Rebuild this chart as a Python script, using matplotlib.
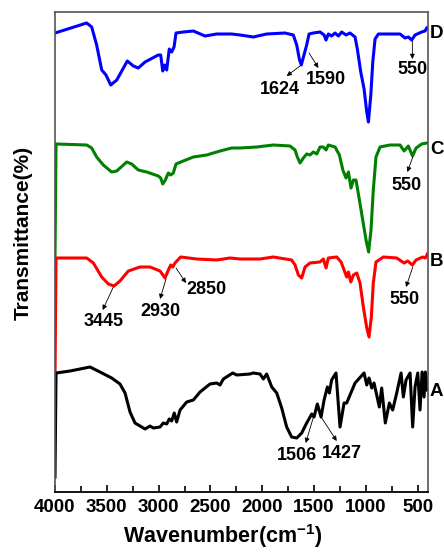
import numpy as np
import matplotlib.pyplot as plt
from matplotlib.transforms import blended_transform_factory

plt.rcParams['font.family'] = ['Liberation Sans', 'DejaVu Sans']
plt.rcParams['font.weight'] = 'bold'
plt.rcParams['mathtext.fontset'] = 'custom'
plt.rcParams['mathtext.rm'] = 'Liberation Sans:bold'
plt.rcParams['mathtext.bf'] = 'Liberation Sans:bold'
plt.rcParams['mathtext.default'] = 'bf'

# ~~~~~~~~~~~~~~~~~~~~ data (arbitrary transmittance units) ~~~~~~~~~~~~~~~~~~~~
wn_D = [4000, 3694, 3646, 3598, 3549, 3508, 3462, 3404, 3302, 3244, 3196, 3131, 3003, 2980, 2960,
        2941, 2922, 2897, 2874, 2851, 2832, 2762, 2665, 2552, 2439, 2295, 2214, 2086, 1957, 1780,
        1700, 1667, 1642, 1623, 1597, 1571, 1548, 1507, 1442, 1403, 1384, 1362, 1330, 1297, 1265,
        1233, 1191, 1153, 1104, 1082, 1049, 1017, 991, 975, 952, 933, 911, 879, 766, 670,
        622, 590, 557, 525, 461, 429, 412]
T_D = [459, 469, 465, 447, 422, 417, 407, 412, 431, 426, 424, 430, 437, 437, 421,
       427, 422, 443, 440, 445, 459, 460, 461, 456, 458, 458, 457, 455, 458, 459,
       457, 447, 433, 427, 437, 447, 458, 459, 460, 457, 452, 458, 456, 459, 456,
       460, 457, 459, 455, 443, 420, 403, 380, 370, 397, 430, 453, 458, 458, 458,
       454, 455, 452, 457, 460, 461, 464]

wn_C = [4000, 3990, 3694, 3646, 3598, 3534, 3453, 3404, 3308, 3260, 3196, 3115, 3003, 2980, 2960,
        2935, 2906, 2883, 2858, 2832, 2762, 2665, 2536, 2407, 2295, 2214, 2053, 1893, 1732, 1683,
        1661, 1635, 1603, 1571, 1539, 1507, 1474, 1442, 1410, 1384, 1362, 1297, 1255, 1222, 1191,
        1168, 1143, 1120, 1095, 1062, 1030, 998, 973, 950, 928, 902, 863, 766, 670, 631,
        590, 549, 515, 461, 412]
T_C = [235, 348, 347, 344, 335, 327, 320, 321, 330, 328, 322, 320, 316, 314, 308,
       312, 319, 317, 319, 328, 331, 335, 337, 341, 344, 344, 345, 347, 346, 342,
       335, 329, 334, 338, 337, 340, 338, 345, 345, 342, 347, 345, 337, 322, 314,
       320, 304, 312, 312, 292, 272, 252, 240, 262, 302, 335, 345, 347, 347, 341,
       346, 336, 344, 348, 349]

wn_B = [4000, 3990, 3694, 3630, 3549, 3485, 3430, 3373, 3292, 3180, 3083, 2986, 2938, 2906, 2883,
        2864, 2842, 2787, 2633, 2439, 2311, 2214, 2021, 1893, 1716, 1683, 1651, 1619, 1587, 1539,
        1442, 1410, 1384, 1362, 1281, 1239, 1210, 1185, 1168, 1145, 1120, 1088, 1056, 1024, 991,
        969, 947, 928, 902, 831, 702, 631, 596, 551, 515, 451, 425, 406]
T_B = [114, 234, 234, 229, 215, 208, 206, 211, 221, 225, 225, 221, 214, 222, 227,
       225, 229, 235, 233, 232, 234, 233, 233, 235, 232, 227, 217, 214, 225, 229,
       230, 233, 224, 234, 235, 230, 222, 215, 220, 210, 217, 219, 209, 185, 164,
       155, 175, 209, 230, 235, 234, 229, 231, 227, 232, 235, 234, 238]

wn_A = [4000, 3990, 3855, 3662, 3566, 3453, 3373, 3324, 3276, 3228, 3131, 3083, 3051, 2986, 2955,
        2922, 2897, 2874, 2849, 2826, 2793, 2729, 2665, 2600, 2504, 2439, 2407, 2375, 2285, 2246,
        2118, 2086, 2021, 1989, 1957, 1908, 1860, 1812, 1764, 1716, 1667, 1619, 1571, 1522, 1500,
        1468, 1432, 1403, 1371, 1352, 1330, 1288, 1249, 1210, 1185, 1104, 1017, 991, 969, 943,
        921, 895, 870, 847, 812, 773, 741, 702, 660, 638, 612, 573, 548, 525, 499,
        477, 457, 438, 425, 406]
T_A = [15, 119, 121, 125, 120, 114, 108, 99, 80, 69, 63, 66, 64, 65, 69,
       68, 73, 71, 79, 70, 82, 90, 92, 100, 108, 109, 107, 113, 119, 117,
       118, 119, 118, 113, 118, 105, 99, 84, 65, 55, 54, 59, 69, 78, 75,
       88, 75, 92, 105, 99, 112, 119, 65, 89, 89, 109, 119, 107, 114, 104,
       109, 97, 85, 104, 69, 89, 82, 99, 119, 95, 112, 119, 65, 105, 119,
       82, 120, 95, 120, 102]

curves = [('D', wn_D, T_D, '#0000ff'),
          ('C', wn_C, T_C, '#008000'),
          ('B', wn_B, T_B, '#ff0000'),
          ('A', wn_A, T_A, '#000000')]

# label, peak (tail), arrow head, text centre
peaks = [('1624', (1635, 426), (1764, 416), (1828, 403)),
         ('1590', (1548, 439), (1458, 424), (1384, 412)),
         ('550', (551, 451), (551, 433), (551, 423)),
         ('550', (547, 335), (599, 320), (605, 307)),
         ('3445', (3437, 205), (3540, 182), (3527, 170)),
         ('2930', (2929, 213), (2986, 193), (2986, 181)),
         ('2850', (2832, 224), (2736, 209), (2536, 203)),
         ('550', (547, 225), (612, 205), (622, 192)),
         ('1506', (1500, 77), (1580, 49), (1667, 37)),
         ('1427', (1432, 75), (1281, 51), (1233, 38))]

# ~~~~~~~~~~~~~~~~~~~~ plot ~~~~~~~~~~~~~~~~~~~~
fig = plt.figure(figsize=(4.44, 5.52), dpi=100)
ax = fig.add_axes([55/444, 1 - 492/552, 373/444, 480/552])

for name, wn, T, col in curves:
    ax.plot(wn, T, color=col, lw=2.2, solid_joinstyle='round')

trans = blended_transform_factory(ax.transAxes, ax.transData)
label_y = {'D': 459, 'C': 342, 'B': 230, 'A': 100}
for name, wn, T, col in curves:
    ax.text(1.005, label_y[name], name, transform=trans, ha='left', va='center',
            fontsize=13.5, fontweight='bold')

for lab, tail, head, txt in peaks:
    ax.annotate('', xy=head, xytext=tail,
                arrowprops=dict(arrowstyle='-|>', color='black', lw=0.6, mutation_scale=7,
                                shrinkA=0, shrinkB=0))
    ax.text(txt[0], txt[1], lab, ha='center', va='center', fontsize=13, fontweight='bold')

ax.set_xlim(4000, 400)
ax.set_ylim(0, 480)
ax.set_yticks([])
ax.set_xticks([4000, 3500, 3000, 2500, 2000, 1500, 1000, 500])
ax.set_xticks(np.arange(3750, 400, -500), minor=True)
ax.tick_params(axis='x', which='both', direction='in', labelsize=13.5, pad=5)
ax.tick_params(axis='x', which='major', length=5, width=1.2)
ax.tick_params(axis='x', which='minor', length=4, width=1.2)
for lbl in ax.get_xticklabels():
    lbl.set_fontweight('bold')

for side in ['top', 'right', 'left']:
    ax.spines[side].set_color('#555555')
    ax.spines[side].set_linewidth(1.2)
ax.spines['bottom'].set_linewidth(1.3)

ax.set_xlabel('Wavenumber(cm$^{-1}$)', fontsize=15.5, fontweight='bold')
ax.set_ylabel('Transmittance(%)', fontsize=15, fontweight='bold')
ax.xaxis.set_label_coords(0.45, -0.063)
ax.yaxis.set_label_coords(-0.06, 0.54)

fig.savefig('out.png', dpi=100)
